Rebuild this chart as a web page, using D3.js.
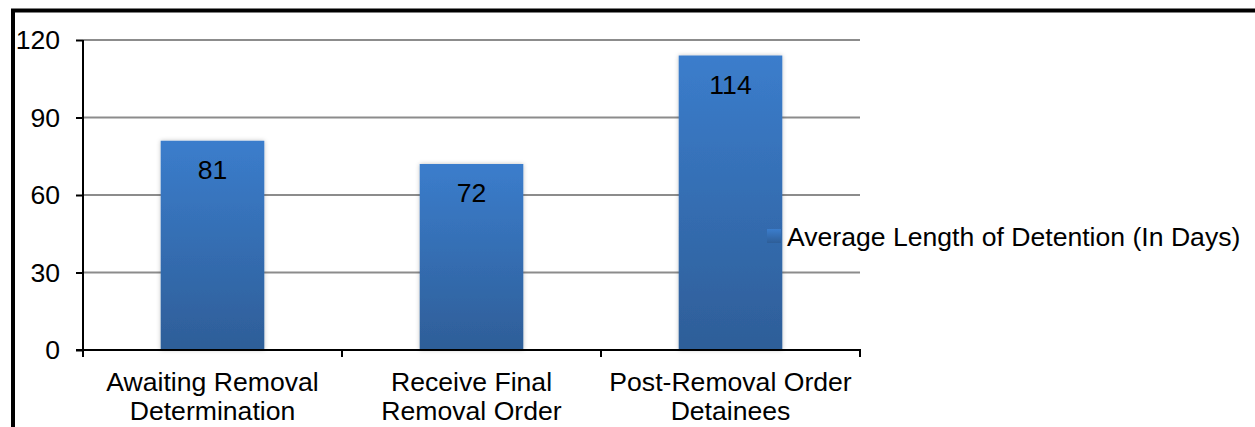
<!DOCTYPE html>
<meta charset="utf-8">
<style>
body { margin: 0; background: #fff; }
text { font-family: "Liberation Sans", Arial, sans-serif; fill: #000; }
</style>
<svg width="1255" height="427"></svg>
<script src="https://cdn.jsdelivr.net/npm/d3@7"></script>
<script>

var categories = [["Awaiting Removal", "Determination"], ["Receive Final", "Removal Order"], ["Post-Removal Order", "Detainees"]];
var values = [81, 72, 114];
var yTicks = [0, 30, 60, 90, 120];
var seriesName = "Average Length of Detention (In Days)";

var svg = d3.select("svg");
var fs = "26.6px";

var x = d3.scaleBand().domain(d3.range(values.length)).range([83, 860]).paddingInner(0.6).paddingOuter(0.3);
var y = d3.scaleLinear().domain([0, 120]).range([350, 40]);

// gradient for bars
var defs = svg.append("defs");
var grad = defs.append("linearGradient").attr("id", "barGrad").attr("x1", 0).attr("y1", 0).attr("x2", 0).attr("y2", 1);
grad.append("stop").attr("offset", "0%").attr("stop-color", "#3b7dcc");
grad.append("stop").attr("offset", "100%").attr("stop-color", "#2e5e98");
var f = defs.append("filter").attr("id", "shadow").attr("x", "-10%").attr("width", "120%");
f.append("feDropShadow").attr("dx", 0).attr("dy", 0).attr("stdDeviation", 2).attr("flood-color", "#000").attr("flood-opacity", 0.25);

// frame
svg.append("path").attr("d", "M13,427 V10.5 H1255").attr("fill", "none").attr("stroke", "#000").attr("stroke-width", 4);

// gridlines
svg.append("g").selectAll("line").data(yTicks.slice(1)).enter().append("line")
  .attr("x1", 83).attr("x2", 860)
  .attr("y1", function(d) { return y(d); }).attr("y2", function(d) { return y(d); })
  .attr("stroke", "#8c8c8c").attr("stroke-width", 2);

// bars
svg.append("g").selectAll("rect").data(values).enter().append("rect")
  .attr("x", function(d, i) { return x(i); })
  .attr("y", function(d) { return y(d); })
  .attr("width", x.bandwidth())
  .attr("height", function(d) { return y(0) - y(d); })
  .attr("fill", "url(#barGrad)")
  .attr("filter", "url(#shadow)");

// value labels
svg.append("g").selectAll("text").data(values).enter().append("text")
  .attr("x", function(d, i) { return x(i) + x.bandwidth() / 2; })
  .attr("y", function(d) { return y(d) + 38; })
  .attr("text-anchor", "middle")
  .style("font-size", fs)
  .text(function(d) { return d; });

// y axis
var yAxis = svg.append("g").attr("transform", "translate(83,0)")
  .call(d3.axisLeft(y).tickValues(yTicks).tickSize(7).tickPadding(16));
yAxis.select(".domain").attr("stroke", "#000").attr("stroke-width", 2).attr("d", "M0,40V351");
yAxis.selectAll(".tick line").attr("stroke-width", 2);
yAxis.selectAll(".tick text").style("font-size", fs).style("font-family", "Liberation Sans, Arial, sans-serif").attr("fill", "#000");

// x axis (category boundaries)
var xEdges = d3.range(values.length + 1).map(function(i) { return 83 + i * x.step(); });
svg.append("line").attr("x1", 76).attr("x2", 861).attr("y1", 350).attr("y2", 350).attr("stroke", "#000").attr("stroke-width", 2);
svg.append("g").selectAll("line").data(xEdges).enter().append("line")
  .attr("x1", function(d) { return d; }).attr("x2", function(d) { return d; })
  .attr("y1", 350).attr("y2", 357).attr("stroke", "#000").attr("stroke-width", 2);

var xl = svg.append("g").selectAll("text").data(categories).enter().append("text")
  .attr("x", function(d, i) { return x(i) + x.bandwidth() / 2; })
  .attr("y", 391)
  .attr("text-anchor", "middle")
  .style("font-size", fs);
xl.selectAll("tspan").data(function(d) { return d; }).enter().append("tspan")
  .attr("x", function() { return d3.select(this.parentNode).attr("x"); })
  .attr("dy", function(d, i) { return i ? 29 : 0; })
  .text(function(d) { return d; });

// legend
svg.append("rect").attr("x", 767).attr("y", 229).attr("width", 14).attr("height", 14).attr("fill", "url(#barGrad)");
svg.append("text").attr("x", 787).attr("y", 246).style("font-size", fs).text(seriesName);

</script>
